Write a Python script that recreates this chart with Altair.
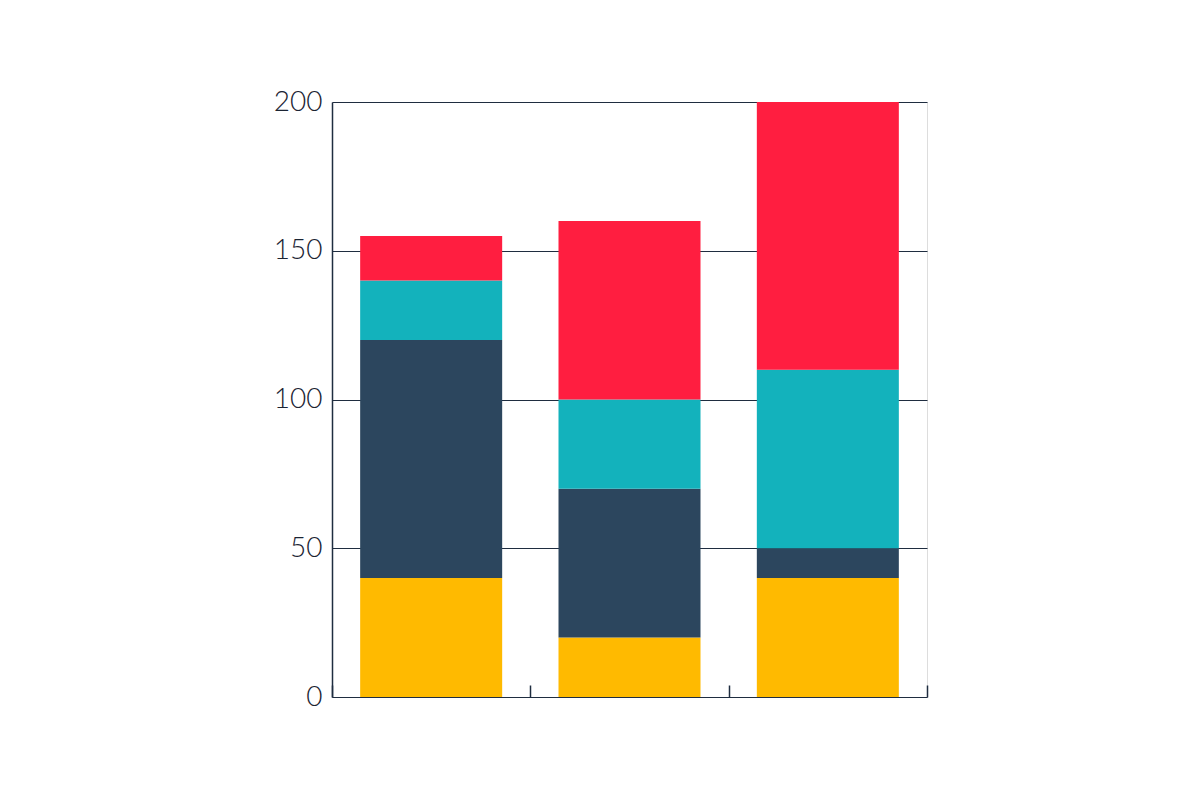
import altair as alt
import pandas as pd

groups = ["A", "B", "C"]
series = ["Yellow", "Navy", "Teal", "Red"]
values = {
    "Yellow": [40, 20, 40],
    "Navy": [80, 50, 10],
    "Teal": [20, 30, 60],
    "Red": [15, 60, 90],
}
colors = ["#FFBA00", "#2C465E", "#13B2BC", "#FF1E40"]
y_ticks = [0, 50, 100, 150, 200]

rows = []
for si, s in enumerate(series):
    for gi, g in enumerate(groups):
        rows.append({"group": g, "series": s, "order": si, "value": values[s][gi]})
df = pd.DataFrame(rows)

axis_color = "#1F2D40"

chart = (
    alt.Chart(df)
    .mark_bar(width=alt.RelativeBandSize(0.716))
    .encode(
        x=alt.X(
            "group:N",
            sort=groups,
            scale=alt.Scale(paddingInner=0, paddingOuter=0),
            axis=alt.Axis(
                title=None,
                labels=False,
                domain=False,
                ticks=True,
                tickBand="extent",
                tickSize=12,
                tickWidth=1.5,
                tickColor=axis_color,
                offset=-12,
                grid=False,
            ),
        ),
        y=alt.Y(
            "value:Q",
            stack="zero",
            scale=alt.Scale(domain=[0, 200], nice=False),
            axis=alt.Axis(
                title=None,
                values=y_ticks,
                ticks=False,
                domain=True,
                domainColor=axis_color,
                domainWidth=1.5,
                grid=True,
                gridColor=axis_color,
                gridWidth=1.2,
                labelFont="Lato",
                labelFontWeight=300,
                labelFontSize=28,
                labelColor="#1B2433",
                labelPadding=10,
            ),
        ),
        color=alt.Color(
            "series:N",
            sort=series,
            scale=alt.Scale(domain=series, range=colors),
            legend=None,
        ),
        order=alt.Order("order:Q"),
    )
    .properties(
        width=595,
        height=595,
        autosize=alt.AutoSizeParams(type="none"),
        padding={"left": 324, "top": 94, "right": 100, "bottom": 80},
    )
    .configure_view(stroke="transparent", strokeWidth=0)
    .configure(background="white")
)

chart.save("out.html", embed_options={"renderer": "svg", "actions": False})
